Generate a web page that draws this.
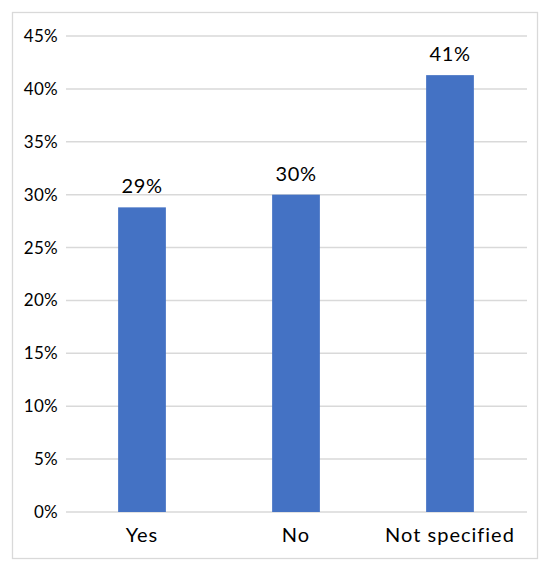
<!DOCTYPE html>
<html>
<head>
<meta charset="utf-8">
<script src="https://cdn.jsdelivr.net/npm/d3@7"></script>
<style>
  body { margin: 0; background: #fff; }
  text { font-family: Lato, "Open Sans", sans-serif; fill: #000; }
</style>
</head>
<body>
<div id="chart"></div>
<script>
// Data
const categories = ["Yes", "No", "Not specified"];
const values = [0.288, 0.300, 0.413];
const valueLabels = ["29%", "30%", "41%"];
const yTicks = [0, 0.05, 0.1, 0.15, 0.2, 0.25, 0.3, 0.35, 0.4, 0.45];

const width = 550;
const height = 573;
const margin = { top: 36, right: 23, bottom: 61, left: 65 };

const svg = d3
  .select("#chart")
  .append("svg")
  .attr("width", width)
  .attr("height", height);

// Outer border
svg
  .append("rect")
  .attr("x", 12.5)
  .attr("y", 12.5)
  .attr("width", 525)
  .attr("height", 546)
  .attr("fill", "none")
  .attr("stroke", "#d9d9d9")
  .attr("stroke-width", 1.3);

const x = d3
  .scaleBand()
  .domain(categories)
  .range([margin.left, width - margin.right])
  .paddingInner(0.69)
  .paddingOuter(0.345);

const y = d3
  .scaleLinear()
  .domain([0, 0.45])
  .range([height - margin.bottom, margin.top]);

// Gridlines
svg
  .append("g")
  .selectAll("line")
  .data(yTicks)
  .join("line")
  .attr("x1", margin.left + 1)
  .attr("x2", width - margin.right)
  .attr("y1", (d) => y(d))
  .attr("y2", (d) => y(d))
  .attr("stroke", "#d9d9d9")
  .attr("stroke-width", 1.5);

// Y tick labels
svg
  .append("g")
  .selectAll("text")
  .data(yTicks)
  .join("text")
  .attr("x", 58)
  .attr("y", (d) => y(d))
  .attr("dy", "0.35em")
  .attr("text-anchor", "end")
  .style("font-size", "17px")
  .style("letter-spacing", "0.3px")
  .text((d) => d3.format(".0%")(d));

// Bars
svg
  .append("g")
  .selectAll("rect")
  .data(values)
  .join("rect")
  .attr("x", (d, i) => x(categories[i]))
  .attr("y", (d) => y(d))
  .attr("width", x.bandwidth())
  .attr("height", (d) => y(0) - y(d))
  .attr("fill", "#4472c4");

// Value labels
svg
  .append("g")
  .selectAll("text")
  .data(values)
  .join("text")
  .attr("x", (d, i) => x(categories[i]) + x.bandwidth() / 2)
  .attr("y", (d) => y(d) - 14)
  .attr("text-anchor", "middle")
  .style("font-size", "20px")
  .style("letter-spacing", "0.6px")
  .text((d, i) => valueLabels[i]);

// Category labels
svg
  .append("g")
  .selectAll("text")
  .data(categories)
  .join("text")
  .attr("x", (d) => x(d) + x.bandwidth() / 2)
  .attr("y", 542)
  .attr("text-anchor", "middle")
  .style("font-size", "20px")
  .style("letter-spacing", "1px")
  .text((d) => d);
</script>
</body>
</html>
